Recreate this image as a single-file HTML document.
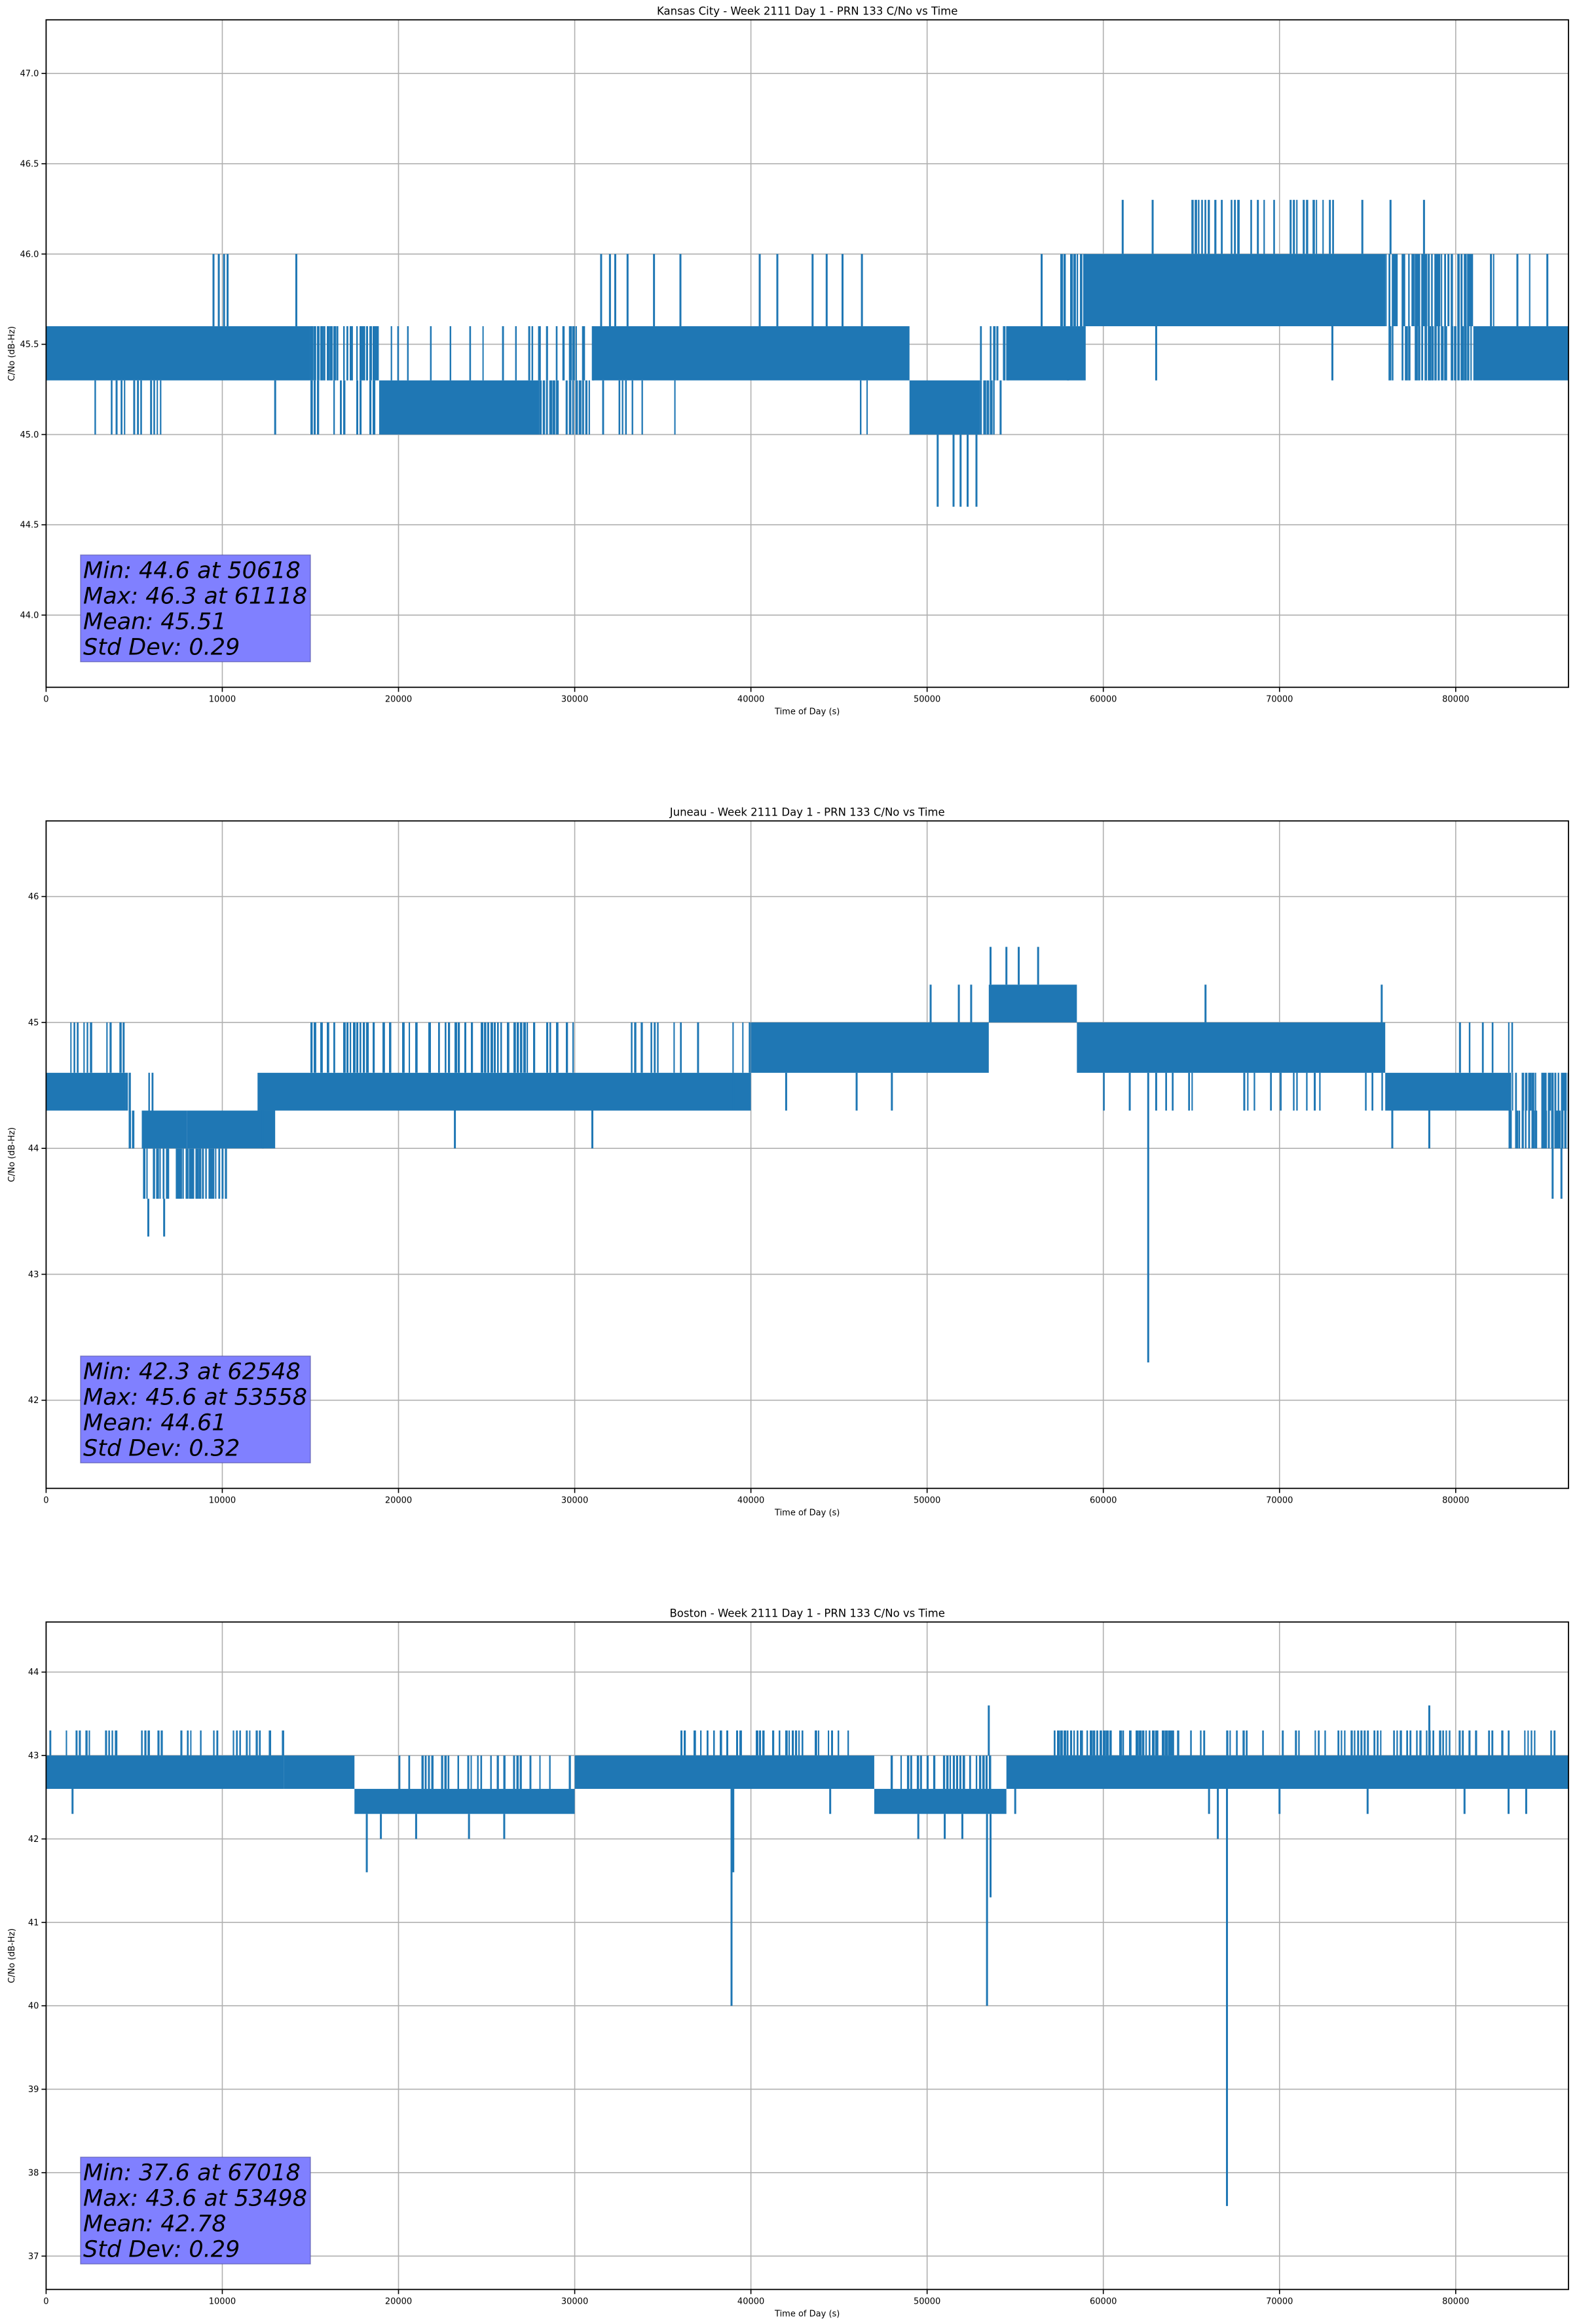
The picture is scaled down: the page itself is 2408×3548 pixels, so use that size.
<!DOCTYPE html>
<html><head><meta charset="utf-8">
<style>
html,body{margin:0;padding:0;background:#fff;}
svg{display:block;font-family:"DejaVu Sans","Liberation Sans",sans-serif;}
</style></head>
<body>
<svg id="fig" width="2408" height="3548" viewBox="0 0 2408 3548" xmlns="http://www.w3.org/2000/svg"></svg>
<script>
// ---- data ----
const titles = ["Kansas City - Week 2111 Day 1 - PRN 133 C/No vs Time","Juneau - Week 2111 Day 1 - PRN 133 C/No vs Time","Boston - Week 2111 Day 1 - PRN 133 C/No vs Time"];
const statsKC = ["Min: 44.6 at 50618","Max: 46.3 at 61118","Mean: 45.51","Std Dev: 0.29"];
const statsJU = ["Min: 42.3 at 62548","Max: 45.6 at 53558","Mean: 44.61","Std Dev: 0.32"];
const statsBO = ["Min: 37.6 at 67018","Max: 43.6 at 53498","Mean: 42.78","Std Dev: 0.29"];
const xTicks = [0,10000,20000,30000,40000,50000,60000,70000,80000];
const yTicksKC = [44.0,44.5,45.0,45.5,46.0,46.5,47.0];
const yTicksJU = [42,43,44,45,46];
const yTicksBO = [37,38,39,40,41,42,43,44];
const yRangeKC = [43.6,47.297];
const yRangeJU = [41.3,46.6];
const yRangeBO = [36.6,44.6];
// segments: [tStart, tEnd, low, high, density]
const bandsKC = [
 [0,15000,45.3,45.6,1],[2000,6500,45.0,45.3,0.25],[15000,19000,45.3,45.6,0.85],[15000,19000,45.0,45.3,0.55],
 [19000,28000,45.0,45.3,1],[19000,28000,45.3,45.6,0.25],[28000,31000,45.0,45.3,0.65],[28000,31000,45.3,45.6,0.65],
 [31000,49000,45.3,45.6,1],[31000,36000,45.0,45.3,0.25],[46000,48500,45.0,45.3,0.25],
 [49000,53000,45.0,45.3,1],[53000,54600,45.0,45.3,0.6],[53000,54600,45.3,45.6,0.5],[54600,57000,45.3,45.6,1],
 [57000,59000,45.3,45.6,1],[57000,59000,45.6,46.0,0.6],[59000,76000,45.6,46.0,1],[65000,73000,46.0,46.3,0.45],
 [76000,81000,45.6,46.0,0.9],[76000,81000,45.3,45.6,0.75],[81000,86400,45.3,45.6,1],[81000,86400,45.6,46.0,0.08]
];
const bandsJU = [
 [0,4500,44.3,44.6,1],[1000,4500,44.6,45.0,0.4],[4500,6000,44.0,44.3,0.7],[4500,6000,44.3,44.6,0.6],
 [5500,10200,43.6,44.0,0.8],[5500,8000,44.0,44.3,1],[8000,13000,44.0,44.3,1],[12000,40000,44.3,44.6,1],
 [15000,31000,44.6,45.0,0.55],[33000,40000,44.6,45.0,0.35],[40000,53500,44.6,45.0,1],
 [53500,58500,45.0,45.3,1],[58500,76000,44.6,45.0,1],[58500,76000,44.3,44.6,0.2],
 [76000,83000,44.3,44.6,1],[80000,84000,44.6,45.0,0.3],[83000,86400,44.3,44.6,0.75],[83000,86400,44.0,44.3,0.85]
];
const bandsBO = [
 [0,13500,42.6,43.0,1],[0,13500,43.0,43.3,0.45],[13500,17500,42.6,43.0,1],
 [17500,30000,42.3,42.6,1],[20000,30000,42.6,43.0,0.4],[30000,47000,42.6,43.0,1],
 [36000,46000,43.0,43.3,0.5],[47000,54500,42.3,42.6,1],[47000,54500,42.6,43.0,0.45],
 [54500,57000,42.6,43.0,1],[57000,86400,42.6,43.0,1],[57000,64000,43.0,43.3,0.75],
 [64000,86400,43.0,43.3,0.35]
];
// spikes: [t, from, to]
const spikesKC = [
 [9500,45.6,46.0],[9800,45.6,46.0],[10100,45.6,46.0],[10300,45.6,46.0],[14200,45.6,46.0],
 [31500,45.6,46.0],[32000,45.6,46.0],[32300,45.6,46.0],[33000,45.6,46.0],[34500,45.6,46.0],[36000,45.6,46.0],
 [40500,45.6,46.0],[41500,45.6,46.0],[43500,45.6,46.0],[44300,45.6,46.0],[45200,45.6,46.0],[46300,45.6,46.0],
 [50600,45.0,44.6],[51500,45.0,44.6],[51900,45.0,44.6],[52300,45.0,44.6],[52800,45.0,44.6],
 [56500,45.6,46.0],[61100,46.0,46.3],[62800,46.0,46.3],[74700,46.0,46.3],[76300,46.0,46.3],[78200,46.0,46.3],
 [58000,45.6,45.3],[63000,45.6,45.3],[73000,45.6,45.3],[82000,45.6,46.0],[83500,45.6,46.0],[85200,45.6,46.0],
 [13000,45.3,45.0],[4000,45.3,45.0],[5000,45.3,45.0]
];
const spikesJU = [
 [5800,43.6,43.3],[6700,43.6,43.3],[12300,44.3,44.0],[23200,44.3,44.0],[31000,44.3,44.0],
 [37000,44.6,45.0],[39000,44.6,44.3],[42000,44.6,44.3],[46000,44.6,44.3],[48000,44.6,44.3],
 [50200,45.0,45.3],[51800,45.0,45.3],[52500,45.0,45.3],[53600,45.3,45.6],[54500,45.3,45.6],[55200,45.3,45.6],[56300,45.3,45.6],
 [62548,44.6,42.3],[61500,44.6,44.3],[63000,44.6,44.3],[65800,45.0,45.3],[68000,44.6,44.3],[72000,44.6,44.3],[75800,45.0,45.3],
 [76400,44.3,44.0],[78500,44.3,44.0],[85500,44.0,43.6],[86000,44.0,43.6]
];
const spikesBO = [
 [1500,42.6,42.3],[18200,42.3,41.6],[19000,42.3,42.0],[21000,42.3,42.0],[24000,42.3,42.0],[26000,42.3,42.0],
 [38900,42.6,40.0],[39000,42.6,41.6],[44500,42.6,42.3],[49500,42.3,42.0],[51000,42.3,42.0],[52000,42.3,42.0],
 [53400,42.3,40.0],[53500,43.0,43.6],[53600,42.3,41.3],[55000,42.6,42.3],
 [66000,42.6,42.3],[66500,42.6,42.0],[67018,42.6,37.6],[70000,42.6,42.3],[78500,43.0,43.6],
 [75000,42.6,42.3],[80500,42.6,42.3],[83000,42.6,42.3],[84000,42.6,42.3]
];
// ---- layout ----
const NS="http://www.w3.org/2000/svg";
const fig=document.getElementById('fig');
const AX_L=70.4, AX_W=2324.6, AX_H=1019, TOPS=[30.3,1253.3,2476.3], XMAX=86400;
function mk(tag,attrs,parent){const e=document.createElementNS(NS,tag);for(const k in attrs)e.setAttribute(k,attrs[k]);parent.appendChild(e);return e;}
// deterministic hash for stripe texture placement (rendering only)
function hsh(n){let x=Math.sin(n*12.9898+78.233)*43758.5453;return x-Math.floor(x);}
const plots=[
 {title:titles[0],stats:statsKC,yt:yTicksKC,yr:yRangeKC,bands:bandsKC,spikes:spikesKC,fmt:1,name:'kansas-city'},
 {title:titles[1],stats:statsJU,yt:yTicksJU,yr:yRangeJU,bands:bandsJU,spikes:spikesJU,fmt:0,name:'juneau'},
 {title:titles[2],stats:statsBO,yt:yTicksBO,yr:yRangeBO,bands:bandsBO,spikes:spikesBO,fmt:0,name:'boston'}
];
plots.forEach((p,i)=>{
  const top=TOPS[i], bot=top+AX_H;
  const xs=t=>AX_L+t/XMAX*AX_W;
  const ys=v=>bot-(v-p.yr[0])/(p.yr[1]-p.yr[0])*AX_H;
  const g=mk('g',{},fig);
  
  
  const clipId='clip'+i;
  const cp=mk('clipPath',{id:clipId},mk('defs',{},g));
  mk('rect',{x:AX_L,y:top,width:AX_W,height:AX_H},cp);
  xTicks.forEach(t=>{
    const l=mk('line',{x1:xs(t),x2:xs(t),y1:top,y2:bot,stroke:'#b0b0b0','stroke-width':1.6},g);
    
    
  });
  p.yt.forEach(v=>{
    const l=mk('line',{x1:AX_L,x2:AX_L+AX_W,y1:ys(v),y2:ys(v),stroke:'#b0b0b0','stroke-width':1.6},g);
    
    
  });
  const dg=mk('g',{'clip-path':'url(#'+clipId+')'},g);
  
  
  p.bands.forEach((b,bi)=>{
    const x0=xs(b[0]), x1=xs(b[1]), y0=ys(b[3]), y1=ys(b[2]);
    if(b[4]>=1){
      const r=mk('rect',{x:x0,width:x1-x0,y:y0,height:y1-y0,fill:'#1f77b4'},dg);
      
      
    } else {
      let d='';
      const step=5;
      let k=0;
      for(let x=x0;x<x1;x+=step){
        k++;
        if(hsh(k+bi*997+i*31)<b[4]){
          const w=2+hsh(k*3+bi)*4*b[4];
          d+='M'+x.toFixed(1)+' '+y0.toFixed(1)+'h'+w.toFixed(1)+'V'+y1.toFixed(1)+'h-'+w.toFixed(1)+'Z';
        }
      }
      const pa=mk('path',{d:d,fill:'#1f77b4'},dg);
      
      
    }
  });
  p.spikes.forEach(s=>{
    const l=mk('line',{x1:xs(s[0]),x2:xs(s[0]),y1:ys(s[1]),y2:ys(s[2]),stroke:'#1f77b4','stroke-width':3},dg);
    
    
  });
  const fr=mk('rect',{x:AX_L,y:top,width:AX_W,height:AX_H,fill:'none',stroke:'#000','stroke-width':1.8},g);
  
  
  xTicks.forEach(t=>{
    mk('line',{x1:xs(t),x2:xs(t),y1:bot,y2:bot+7,stroke:'#000','stroke-width':1.6},g);
    const tx=mk('text',{x:xs(t),y:bot+22,'font-size':13,'text-anchor':'middle',fill:'#000'},g);
    tx.textContent=String(t);
    
    
  });
  p.yt.forEach(v=>{
    mk('line',{x1:AX_L-7,x2:AX_L,y1:ys(v),y2:ys(v),stroke:'#000','stroke-width':1.6},g);
    const tx=mk('text',{x:AX_L-11,y:ys(v)+4.5,'font-size':13,'text-anchor':'end',fill:'#000'},g);
    tx.textContent=p.fmt?v.toFixed(1):String(v);
    
    
  });
  const tt=mk('text',{x:AX_L+AX_W/2,y:top-8,'font-size':16.5,'text-anchor':'middle',fill:'#000'},g);
  tt.textContent=p.title;
  
  
  const xl=mk('text',{x:AX_L+AX_W/2,y:bot+41,'font-size':13,'text-anchor':'middle',fill:'#000'},g);
  xl.textContent='Time of Day (s)';
  
  
  const yl=mk('text',{x:0,y:0,'font-size':13,'text-anchor':'middle',fill:'#000',transform:'translate(22,'+(top+AX_H/2)+') rotate(-90)'},g);
  yl.textContent='C/No (dB-Hz)';
  
  
  const bx=mk('rect',{x:123,y:top+817,width:351,height:163,fill:'#8080ff',stroke:'#5050a0','stroke-opacity':0.6,'stroke-width':1.5},g);
  
  
  p.stats.forEach((s,k)=>{
    const tx=mk('text',{x:127,y:top+852+k*39,'font-size':35,'font-style':'italic',fill:'#000'},g);
    tx.textContent=s;
    
    
  });
});
</script>
</body></html>
